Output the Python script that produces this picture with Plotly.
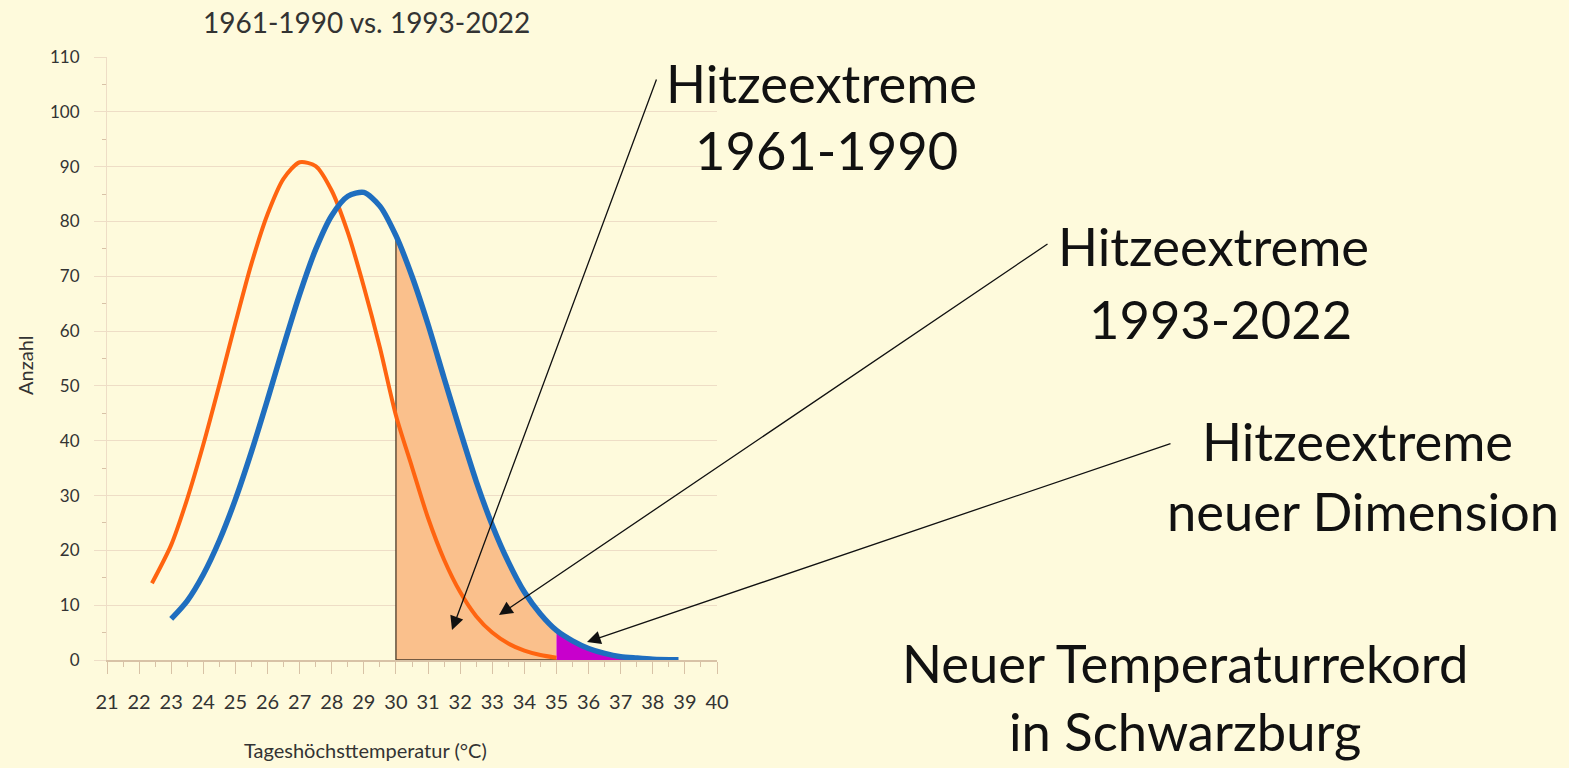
import plotly.graph_objects as go

# ---------------- data ----------------
x_1961 = [22.4, 23, 23.5, 24, 24.5, 25, 25.5, 26, 26.5, 27, 27.5, 28, 28.5, 29, 29.5,
          30, 30.5, 31, 31.5, 32, 32.5, 33, 33.5, 34, 34.5, 35]
y_1961 = [14, 21, 29.4, 39.3, 50.2, 61.5, 72.3, 81.3, 87.8, 90.8, 90.1, 85.6, 78, 68.1, 57,
          44.6, 35.2, 25.9, 18.3, 12.4, 8, 5, 3, 1.7, 0.9, 0.4]

x_1993 = [23, 23.5, 24, 24.5, 25, 25.5, 26, 26.5, 27, 27.5, 28, 28.5, 29, 29.5, 30, 30.5,
          31, 31.5, 32, 32.5, 33, 33.5, 34, 34.5, 35, 35.5, 36, 36.5, 37, 37.5, 38, 38.8]
y_1993 = [7.5, 10.8, 15.6, 21.8, 29.3, 38, 47.5, 57.3, 66.7, 74.9, 81.1, 84.6, 85.3, 82.8, 77.4, 70,
          61.2, 51.4, 41.8, 32.6, 24.6, 17.9, 12.4, 8.4, 5.4, 3.5, 2.1, 1.2, 0.6, 0.35, 0.15, 0.05]

hot_start, hot_end = 30, 35          # shaded "Hitzeextreme" band
x_tick_vals = list(range(21, 41))
y_tick_vals = list(range(0, 111, 10))

title_text = "1961-1990 vs. 1993-2022"
x_title = "Tageshöchsttemperatur (°C)"
y_title = "Anzahl"

# ---------------- styling ----------------
BG = "#FEFADC"
GRID = "#EEDDC6"
AXIS = "#D8C2A6"
ORANGE = "#FF6410"
BLUE = "#1F6EBF"
FILL = "#FAC08C"
PURPLE = "#C800CC"
FONT = "Lato"
TXT = "#333333"
SMOOTH = 0.75

W, H = 1569, 768
L, R, T, B = 107, 717, 57, 660   # plot area in pixels


def px(xp):
    return (xp - L) / (R - L)


def py(yp):
    return (B - yp) / (B - T)


band_x = [x for x in x_1993 if hot_start <= x <= hot_end]
band_y = [y for x, y in zip(x_1993, y_1993) if hot_start <= x <= hot_end]
new_x = [x for x in x_1993 if x >= hot_end]
new_y = [y for x, y in zip(x_1993, y_1993) if x >= hot_end]

fig = go.Figure()

fig.add_trace(go.Scatter(x=band_x, y=band_y, mode="lines",
                         line=dict(width=0, shape="spline", smoothing=SMOOTH),
                         fill="tozeroy", fillcolor=FILL, hoverinfo="skip", showlegend=False))
fig.add_trace(go.Scatter(x=new_x, y=new_y, mode="lines",
                         line=dict(width=0, shape="spline", smoothing=SMOOTH),
                         fill="tozeroy", fillcolor=PURPLE, hoverinfo="skip", showlegend=False))
fig.add_trace(go.Scatter(x=[band_x[0], band_x[0], band_x[-1]], y=[band_y[0], 0, 0], mode="lines",
                         line=dict(color="#4A3A2A", width=1.3), hoverinfo="skip", showlegend=False))
fig.add_trace(go.Scatter(x=x_1961, y=y_1961, mode="lines", name="1961-1990",
                         line=dict(color=ORANGE, width=4, shape="spline", smoothing=SMOOTH),
                         showlegend=False))
fig.add_trace(go.Scatter(x=x_1993, y=y_1993, mode="lines", name="1993-2022",
                         line=dict(color=BLUE, width=5.5, shape="spline", smoothing=SMOOTH),
                         showlegend=False))

fig.update_layout(
    width=W, height=H,
    paper_bgcolor=BG, plot_bgcolor=BG,
    margin=dict(l=L, r=W - R, t=T, b=H - B, pad=0),
    font=dict(family=FONT, color=TXT),
    showlegend=False,
)

fig.update_xaxes(
    range=[21, 40], tickmode="array", tickvals=x_tick_vals,
    ticks="outside", ticklen=12, tickcolor=AXIS, tickwidth=1,
    minor=dict(dtick=0.5, ticks="outside", ticklen=5, tickcolor=AXIS, showgrid=False),
    showgrid=False, zeroline=False, showline=True, linecolor=AXIS, linewidth=1.5,
    tickfont=dict(size=20, color=TXT, family=FONT), ticklabelstandoff=11,
)
fig.update_yaxes(
    range=[0, 110], tickmode="array", tickvals=y_tick_vals,
    ticks="outside", ticklen=12, tickcolor=GRID, tickwidth=1.2,
    minor=dict(dtick=5, ticks="outside", ticklen=4, tickcolor=AXIS, showgrid=False),
    showgrid=True, gridcolor=GRID, gridwidth=1.2, zeroline=False,
    showline=True, linecolor=GRID, linewidth=1.2,
    tickfont=dict(size=17, color=TXT, family=FONT), ticklabelstandoff=11,
)

ann = []


def txt(text, xp, yp, size, angle=0):
    ann.append(dict(text=text, x=px(xp), y=py(yp), xref="paper", yref="paper",
                    xanchor="center", yanchor="middle", showarrow=False, textangle=angle,
                    font=dict(family=FONT, size=size, color="#111111" if size > 30 else TXT)))


def arrow(hx, hy, tx, ty):
    ann.append(dict(text="", x=px(hx), y=py(hy), xref="paper", yref="paper",
                    ax=tx - hx, ay=ty - hy, axref="pixel", ayref="pixel",
                    showarrow=True, arrowhead=2, arrowsize=2.1, arrowwidth=1.3,
                    arrowcolor="#111111", standoff=0))


txt(title_text, 366, 22, 28)
txt(x_title, 365, 750, 20)
txt(y_title, 25, 365, 20, angle=-90)

BIG = 52.5
txt("Hitzeextreme", 821, 82, BIG)
txt("1961-1990", 826, 150, BIG)
txt("Hitzeextreme", 1213, 245, BIG)
txt("1993-2022", 1220, 318, BIG)
txt("Hitzeextreme", 1357, 440, BIG)
txt("neuer Dimension", 1363, 510, BIG)
txt("Neuer Temperaturrekord", 1185, 662, BIG)
txt("in Schwarzburg", 1185, 730, BIG)

arrow(452, 630, 657, 78)
arrow(499, 615, 1049, 243)
arrow(587, 642, 1172, 443)

fig.update_layout(annotations=ann)
fig.write_html(
    "out.html",
    config={"displayModeBar": False},
    post_script="document.body.style.margin='0';document.body.style.background='#FEFADC';",
)
